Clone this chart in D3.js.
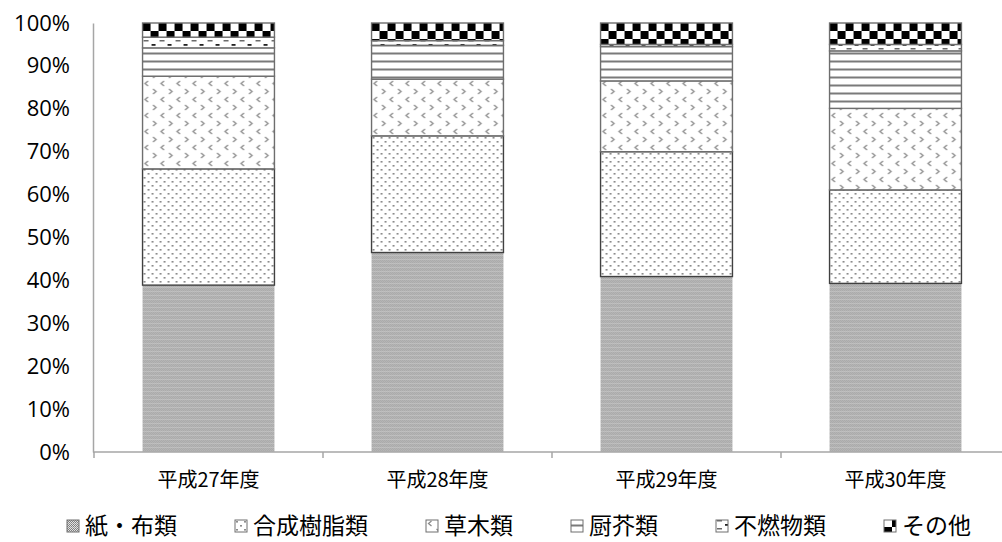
<!DOCTYPE html>
<html>
<head>
<meta charset="utf-8">
<script src="https://cdn.jsdelivr.net/npm/d3@7"></script>
<style>
  body { margin: 0; background: #fff; }
  svg { display: block; }
</style>
</head>
<body>
<svg id="chart" width="1002" height="542"></svg>
<script>
// Composition of collected waste by fiscal year (percent of total)
const categories = ["平成27年度", "平成28年度", "平成29年度", "平成30年度"];
const seriesNames = ["紙・布類", "合成樹脂類", "草木類", "厨芥類", "不燃物類", "その他"];
const paperCloth    = [38.9, 46.5, 40.9, 39.3];
const plastics      = [27.1, 27.2, 29.1, 21.8];
const grassWood     = [21.6, 13.2, 16.5, 19.0];
const kitchenWaste  = [6.6, 7.9, 8.0, 13.4];
const incombustible = [2.5, 1.1, 0.5, 1.5];
const others        = [3.3, 4.1, 5.0, 5.0];
const yTickValues   = [0, 0.1, 0.2, 0.3, 0.4, 0.5, 0.6, 0.7, 0.8, 0.9, 1.0];

const seriesValues = [paperCloth, plastics, grassWood, kitchenWaste, incombustible, others];
const rows = categories.map((c, i) => {
  const r = { category: c };
  seriesNames.forEach((s, k) => { r[s] = seriesValues[k][i]; });
  return r;
});

const svg = d3.select("#chart");
const margin = { left: 94, top: 23, bottom: 452 };

const x = d3.scaleBand()
  .domain(categories)
  .range([margin.left, 1010])
  .paddingInner(0.424)
  .paddingOuter(0.212);

const y = d3.scaleLinear().domain([0, 1]).range([margin.bottom, margin.top]);

const stack = d3.stack().keys(seriesNames).offset(d3.stackOffsetExpand);
const layers = stack(rows);

// ---- fill patterns (monochrome hatches) ----
const defs = svg.append("defs");
const topY = y(1);

function makePattern(id, w, h, draw, oy = 0) {
  const p = defs.append("pattern")
    .attr("id", id)
    .attr("patternUnits", "userSpaceOnUse")
    .attr("x", 0).attr("y", oy)
    .attr("width", w).attr("height", h);
  p.append("rect").attr("width", w).attr("height", h).attr("fill", "#fff");
  draw(p);
  return p;
}

// fine gray checker with faint banding
makePattern("pat-paper", 4, 4, p => {
  p.append("rect").attr("width", 4).attr("height", 4).attr("fill", "#e2e2e2");
  [[0, 0], [2, 0], [1, 1], [3, 1], [0, 2], [2, 2], [1, 3], [3, 3]].forEach(([px, py]) => {
    p.append("rect").attr("x", px).attr("y", py).attr("width", 1).attr("height", 1)
      .attr("fill", py === 3 ? "#9a9a9a" : "#7e7e7e");
  });
});

// staggered small dots
makePattern("pat-plastic", 8, 8, p => {
  p.append("rect").attr("x", 1).attr("y", 1).attr("width", 2).attr("height", 1.6).attr("fill", "#8c8c8c");
  p.append("rect").attr("x", 5).attr("y", 5).attr("width", 2).attr("height", 1.6).attr("fill", "#8c8c8c");
});

// divots
makePattern("pat-grass", 16, 16, p => {
  p.append("path").attr("d", "M5.5,1 L2.5,3.5 L5.5,6").attr("fill", "none")
    .attr("stroke", "#8a8a8a").attr("stroke-width", 1.3);
  p.append("path").attr("d", "M10.5,9 L13.5,11.5 L10.5,14").attr("fill", "none")
    .attr("stroke", "#8a8a8a").attr("stroke-width", 1.3);
});

// horizontal lines
makePattern("pat-kitchen", 8, 8, p => {
  p.append("rect").attr("x", 0).attr("y", 5.5).attr("width", 8).attr("height", 2).attr("fill", "#7a7a7a");
}, topY);

// dashes
makePattern("pat-incomb", 16, 8, p => {
  p.append("rect").attr("x", 1).attr("y", 1).attr("width", 5).attr("height", 1.5).attr("fill", "#6a6a6a");
  p.append("rect").attr("x", 9).attr("y", 5).attr("width", 4).attr("height", 1.8).attr("fill", "#222");
}, topY);

// large checkerboard
makePattern("pat-other", 16, 16, p => {
  p.append("rect").attr("x", 0).attr("y", 0).attr("width", 8).attr("height", 8).attr("fill", "#000");
  p.append("rect").attr("x", 8).attr("y", 8).attr("width", 8).attr("height", 8).attr("fill", "#000");
}, topY);

const fills = {
  "紙・布類": "url(#pat-paper)",
  "合成樹脂類": "url(#pat-plastic)",
  "草木類": "url(#pat-grass)",
  "厨芥類": "url(#pat-kitchen)",
  "不燃物類": "url(#pat-incomb)",
  "その他": "url(#pat-other)"
};
const strokes = {
  "紙・布類": "none",
  "合成樹脂類": "#404040",
  "草木類": "#6e6e6e",
  "厨芥類": "#6e6e6e",
  "不燃物類": "#6e6e6e",
  "その他": "#6e6e6e"
};

// ---- bars: one group per category so patterns start at each bar's left edge ----
const barGroups = svg.append("g").selectAll("g.bar")
  .data(categories)
  .join("g")
  .attr("class", "bar")
  .attr("transform", c => `translate(${x(c)},0)`);

barGroups.each(function(c, i) {
  const g = d3.select(this);
  layers.forEach(layer => {
    const d = layer[i];
    g.append("rect")
      .attr("x", 0)
      .attr("y", y(d[1]))
      .attr("width", x.bandwidth())
      .attr("height", y(d[0]) - y(d[1]))
      .attr("fill", fills[layer.key])
      .attr("stroke", strokes[layer.key])
      .attr("stroke-width", 1.4);
  });
});

// ---- axes ----
const axisColor = "#a6a6a6";

// value axis
const yAxis = svg.append("g")
  .attr("transform", `translate(${margin.left - 1},0)`)
  .call(d3.axisLeft(y).tickValues(yTickValues).tickFormat(d3.format(".0%")).tickSize(0).tickPadding(23));
yAxis.select(".domain").attr("stroke", axisColor).attr("stroke-width", 1.5);
yAxis.selectAll("text")
  .attr("font-family", "'Open Sans', 'Liberation Sans', sans-serif")
  .attr("font-size", 22)
  .attr("fill", "#000");

// category axis
const xAxis = svg.append("g")
  .attr("transform", `translate(0,${margin.bottom})`);
xAxis.append("line")
  .attr("x1", margin.left - 1).attr("x2", 1010)
  .attr("y1", 0).attr("y2", 0)
  .attr("stroke", axisColor).attr("stroke-width", 1.5);
const step = x.step();
xAxis.selectAll("line.tick")
  .data(categories)
  .join("line")
  .attr("class", "tick")
  .attr("x1", c => x(c) + x.bandwidth() / 2 - step / 2)
  .attr("x2", c => x(c) + x.bandwidth() / 2 - step / 2)
  .attr("y1", 0).attr("y2", 6)
  .attr("stroke", axisColor).attr("stroke-width", 1.5);
xAxis.selectAll("text")
  .data(categories)
  .join("text")
  .attr("x", c => x(c) + x.bandwidth() / 2)
  .attr("y", 35)
  .attr("text-anchor", "middle")
  .attr("font-family", "'Noto Sans CJK JP', sans-serif")
  .attr("font-size", 20)
  .attr("fill", "#000")
  .text(c => c);

// ---- legend ----
const legend = svg.append("g").attr("class", "legend");
let lx = 67;
const ly = 526;
const swatch = 12;
seriesNames.forEach(name => {
  const item = legend.append("g").attr("transform", `translate(${lx},${ly - swatch / 2})`);
  item.append("rect")
    .attr("width", swatch).attr("height", swatch)
    .attr("fill", fills[name])
    .attr("stroke", "#6e6e6e").attr("stroke-width", 1);
  const t = item.append("text")
    .attr("x", swatch + 6)
    .attr("y", swatch / 2)
    .attr("dy", "0.36em")
    .attr("font-family", "'Noto Sans CJK JP', sans-serif")
    .attr("font-size", 23)
    .attr("fill", "#000")
    .text(name);
  lx += swatch + 6 + t.node().getComputedTextLength() + 58;
});
</script>
</body>
</html>
